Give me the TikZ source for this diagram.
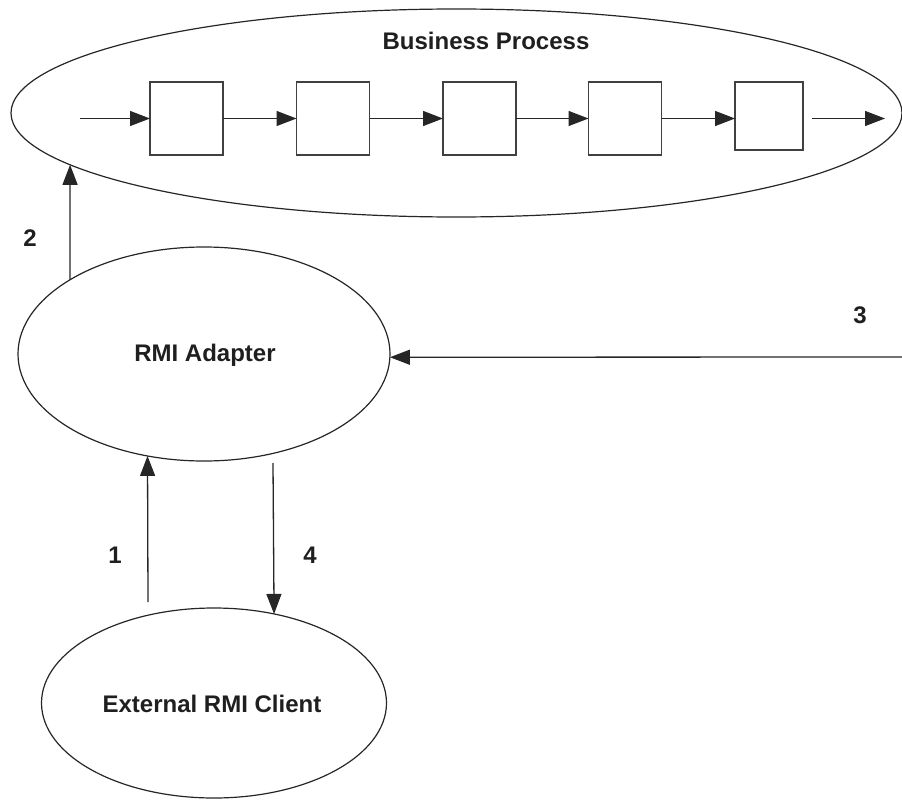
\documentclass[tikz,border=0pt]{standalone}
\usepackage{fontspec}
\setmainfont{Liberation Sans}
\usetikzlibrary{arrows.meta,shapes.geometric,intersections}
\begin{document}
\begin{tikzpicture}[x=1pt,y=-1pt,
  every node/.style={inner sep=0pt,outer sep=0pt},
  oval/.style={ellipse,draw=black!85,line width=1.2pt},
  stepbox/.style={draw=black!75,line width=1.5pt,minimum width=73pt,minimum height=73pt},
  lbl/.style={font=\fontsize{24}{28}\selectfont\bfseries,text=black!88,anchor=base},
  flow/.style={draw=black!85,line width=1.3pt,-{Triangle[length=20pt,width=15pt]}}]
\useasboundingbox (0,0) rectangle (902,800);
\begin{scope}
\clip (0,0) rectangle (902,800);
% outer process ellipse
\node[oval,minimum width=891pt,minimum height=208pt] (bp) at (456.5,113) {};
\end{scope}
\path[name path=bpedge] (bp.center) ellipse [x radius=445.5, y radius=104];
\node[lbl] (bpt) at (486,49.5) {Business Process};
% process steps
\node[stepbox] (b1) at (186.5,118.5) {};
\node[stepbox] (b2) at (333,118.5) {};
\node[stepbox] (b3) at (479.5,118.5) {};
\node[stepbox] (b4) at (625,118.5) {};
\node[stepbox,minimum width=68pt,minimum height=68pt] (b5) at (769,116) {};
\coordinate (pin) at (80,118.5);
\coordinate (pout) at (885,118.5);
\draw[flow] (pin) -- (b1.west);
\draw[flow] (b1.east) -- (b2.west);
\draw[flow] (b2.east) -- (b3.west);
\draw[flow] (b3.east) -- (b4.west);
\draw[flow] (b4.east) -- (b5.west |- pin);
\draw[flow] ([xshift=9pt]b5.east |- pin) -- (pout);
% adapter and client
\node[oval,minimum width=372pt,minimum height=214pt] (rmi) at (204,354) {};
\node[lbl] at (205,361) {RMI Adapter};
\node[oval,minimum width=345pt,minimum height=190pt] (client) at (214,703) {};
\node[lbl] at (212,712) {External RMI Client};
% numbered interactions
\path[name path=up2] (rmi.151.1) -- ++(0,-200);
\path[name intersections={of=bpedge and up2,by=bpin}];
\draw[flow] (rmi.151.1) -- (bpin);
\node[lbl] at (30,246) {2};
\coordinate (c1) at (148,602);
\draw[flow] (c1) -- (rmi.241.2);
\node[lbl] at (115,563) {1};
\coordinate (c4) at (273,463);
\draw[flow] (c4) -- (client.56.5);
\node[lbl] at (310,563) {4};
\coordinate (c3) at (902,357);
\draw[flow] (c3) -- (rmi.-1);
\node[lbl] at (860,323) {3};
\end{tikzpicture}
\end{document}
